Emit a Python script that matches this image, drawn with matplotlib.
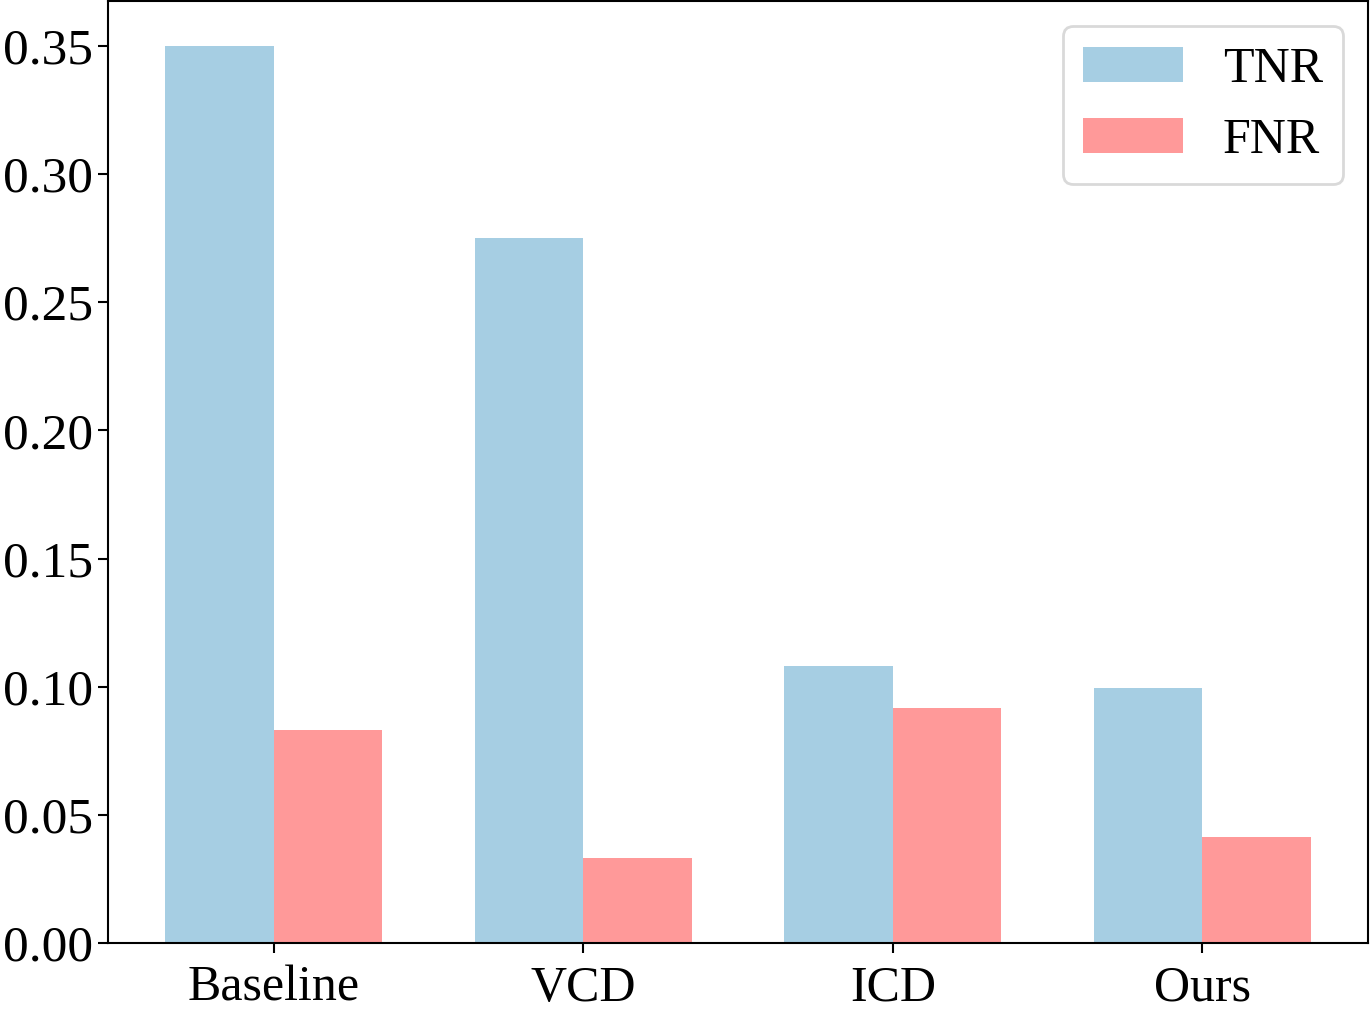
import matplotlib
matplotlib.use("Agg")
import matplotlib.pyplot as plt
import numpy as np

categories = ["Baseline", "VCD", "ICD", "Ours"]
tnr = [0.350, 0.275, 0.108, 0.0995]
fnr = [0.083, 0.033, 0.0915, 0.0413]
yticks = [0.00, 0.05, 0.10, 0.15, 0.20, 0.25, 0.30, 0.35]

plt.rcParams['font.family'] = ['Liberation Serif', 'DejaVu Serif']
plt.rcParams['font.size'] = 36

fig = plt.figure(figsize=(13.7, 10.11), dpi=100)
ax = fig.add_axes([108/1370, 68/1011, 1260/1370, 942/1011])

x = np.arange(len(categories))
w = 0.35
ax.bar(x - w/2, tnr, w, color="#a6cee3", label="TNR")
ax.bar(x + w/2, fnr, w, color="#ff9999", label="FNR")

ax.set_xticks(x)
ax.set_xticklabels(categories)
ax.set_yticks(yticks)
ax.set_yticklabels([f"{v:.2f}" for v in yticks])
ax.set_ylim(0, 0.3675)
ax.tick_params(axis='y', length=7, width=1.5, labelsize=37, pad=4)
ax.tick_params(axis='x', length=7, width=1.5, labelsize=36, pad=9)
for s in ax.spines.values():
    s.set_linewidth(1.5)

leg = ax.legend(loc="upper right", fontsize=36, frameon=True, borderaxespad=0.5)
leg.get_frame().set_linewidth(2)
leg.get_frame().set_edgecolor("#d0d0d0")

fig.savefig("out.png", dpi=100)
